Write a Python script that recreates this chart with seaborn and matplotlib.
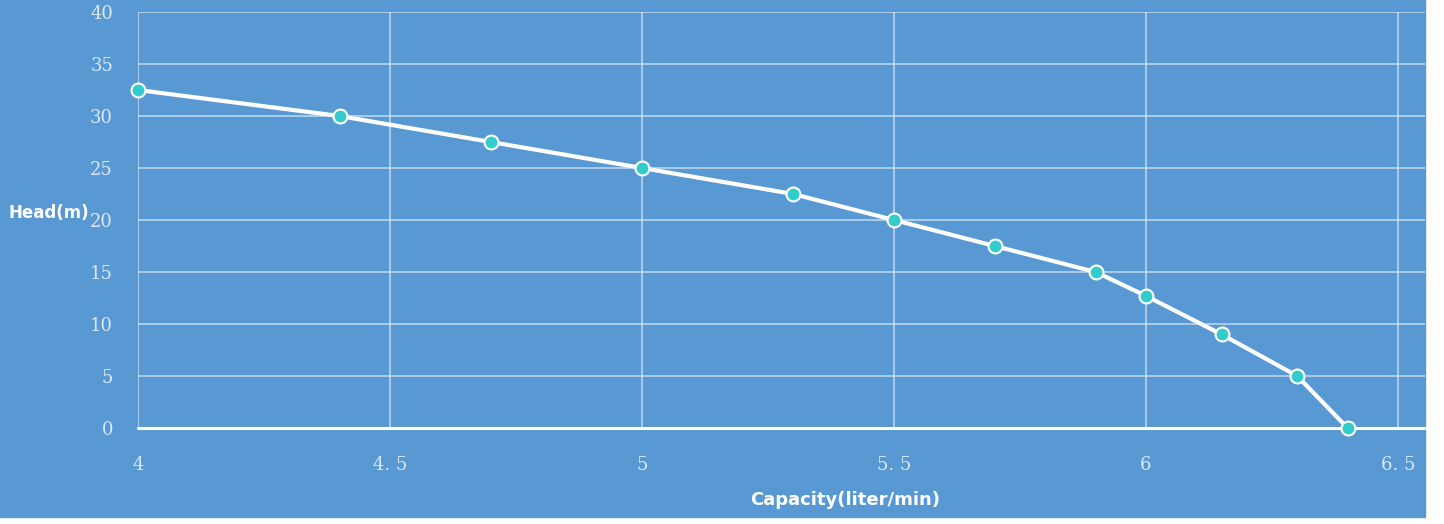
"""Pump performance curve: head vs capacity."""
import matplotlib.pyplot as plt
import matplotlib.patches as mpatches
import pandas as pd
import seaborn as sns

# Data
capacity = [4.0, 4.4, 4.7, 5.0, 5.3, 5.5, 5.7, 5.9, 6.0, 6.15, 6.3, 6.4]
head = [32.5, 30.0, 27.5, 25.0, 22.5, 20.0, 17.5, 15.0, 12.7, 9.0, 5.0, 0.0]
x_ticks = [4.0, 4.5, 5.0, 5.5, 6.0, 6.5]
x_tick_labels = ["4", "4. 5", "5", "5. 5", "6", "6. 5"]
y_ticks = [0, 5, 10, 15, 20, 25, 30, 35, 40]

BLUE = "#5899d3"
TICK = "#dbe7f4"

df = pd.DataFrame({"Capacity": capacity, "Head": head})

sns.set_style("white")
fig = plt.figure(figsize=(14.44, 5.24), dpi=100, facecolor="white")

# blue panel covering most of the figure
fig.patches.append(mpatches.Rectangle(
    (0, 1 - 517 / 524), 1425 / 1444, 517 / 524,
    transform=fig.transFigure, color=BLUE, zorder=-10))

ax = fig.add_axes([138 / 1444, 96 / 524, (1425 - 138) / 1444, 416 / 524])
ax.set_zorder(2)
ax.patch.set_alpha(0)
for s in ax.spines.values():
    s.set_visible(False)

ax.set_xlim(4.0, 4.0 + (1425 - 138) / 504)
ax.set_ylim(0, 40)

# grid
for xv in x_ticks:
    ax.axvline(xv, color="#e6eef8", lw=1.1, alpha=0.75, zorder=1)
for yv in y_ticks[1:]:
    ax.axhline(yv, color="#e6eef8", lw=1.1, alpha=0.75, zorder=1)
ax.axhline(0, color="white", lw=2.2, zorder=2, clip_on=False)

sns.lineplot(data=df, x="Capacity", y="Head", ax=ax, color="white",
             lw=3, marker="o", markersize=10, markerfacecolor="#33cccc",
             markeredgecolor="white", markeredgewidth=1.5, zorder=5,
             clip_on=False)

ax.set_xticks(x_ticks)
ax.set_xticklabels(x_tick_labels)
ax.set_yticks(y_ticks)
ax.tick_params(axis="both", length=0, labelcolor=TICK, labelsize=13)
ax.tick_params(axis="x", pad=20)
ax.tick_params(axis="y", pad=18)
for lab in ax.get_xticklabels() + ax.get_yticklabels():
    lab.set_family("DejaVu Serif")

ax.set_xlabel("")
ax.set_ylabel("")
fig.text(8 / 1444, 1 - 213 / 524, "Head(m)", color="white",
         fontsize=12, fontweight="bold", ha="left", va="center")
fig.text(845 / 1444, 1 - 500 / 524, "Capacity(liter/min)", color="white",
         fontsize=13, fontweight="bold", ha="center", va="center")

fig.savefig("out.png", dpi=100, facecolor="white")
